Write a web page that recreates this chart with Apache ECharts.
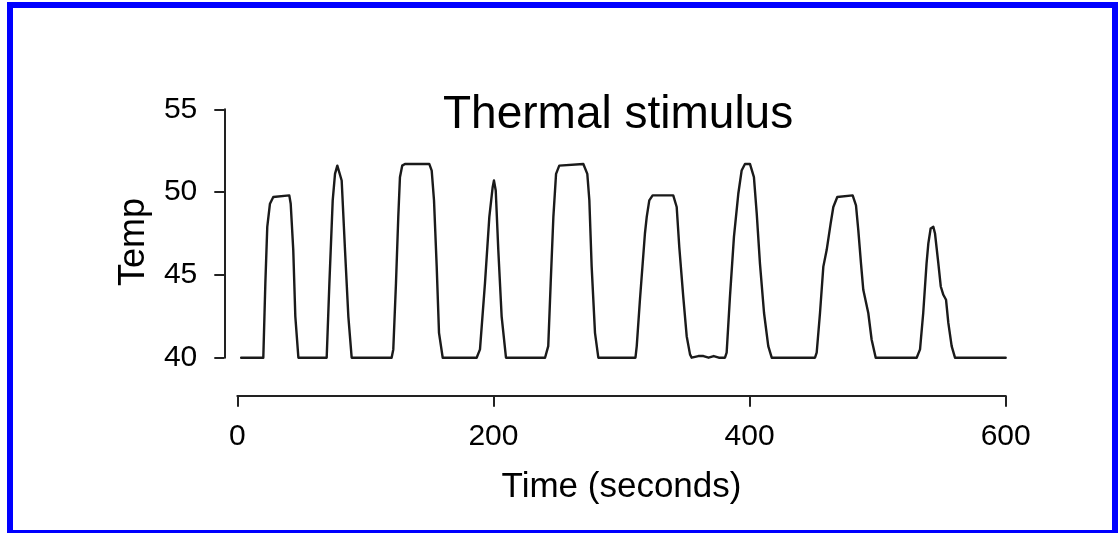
<!DOCTYPE html>
<html>
<head>
<meta charset="utf-8">
<script src="https://cdn.jsdelivr.net/npm/echarts@6/dist/echarts.min.js"></script>
<style>
  html, body { margin: 0; padding: 0; background: #ffffff; }
  #frame { position: absolute; left: 7px; top: 2px; width: 1099px; height: 522px; border: 6px solid #0000ff; }
  #chart { position: absolute; left: 0; top: 0; width: 1118px; height: 533px; }
</style>
</head>
<body>
<div id="frame"></div>
<div id="chart"></div>
<script>
// Time (seconds)
const times = [
  3, 20.3, 21.9, 23.4, 25.5, 28.1, 29.4, 40.6, 41.7, 43.7, 45.3, 47.7,
  69.8, 71.9, 74.5, 76.3, 78.1, 79.6, 81.5, 84.1, 86.7, 89.3,
  120.5, 121.8, 123.9, 125.7, 127, 128.8, 130.9, 149.9, 151.8, 153.6, 155.7, 157.5, 160.4,
  186.9, 187.5, 188.3, 189.5, 193.4, 196.8, 199.4, 200.4, 201.8, 203.8, 206.4, 209.8,
  240.3, 242.8, 244.7, 246.8, 248.9, 251.4, 252.5, 270.2, 273.3, 274.9, 276.7, 279.3, 281.9,
  304, 304.8, 306, 310.9, 311.9, 314.4, 318.3, 319.7, 321.7, 324.3, 340.4, 343.1, 345.1, 348.2, 350.9, 353.5, 354.8,
  360, 364, 368, 372, 376, 380.8, 382.1, 384.7, 387.8, 391.2, 393.8, 396.4, 400.3, 403.4, 405.6, 408.1, 411.3, 414.6, 417.3,
  428, 429, 430, 451.1, 452.4, 455, 457.6, 460.2, 463.3, 465.4, 468.5, 470, 480.5, 483.1, 484.9, 487, 488.8, 492.7, 495.3, 498.5,
  505, 506, 507, 530.5, 533.1, 535.6, 538.2, 539.6, 541.4, 543.5, 544.8, 547.4, 549.3, 551.3, 553.4, 555.2, 557.8, 560.4, 600
];
// Temperature
const temps = [
  40, 40, 44.5, 47.9, 49.3, 49.7, 49.8, 49.8, 49.3, 46.5, 42.5, 40,
  40, 44.5, 49.5, 51.1, 51.6, 51.6, 50.7, 46.5, 42.5, 40,
  40, 40.5, 44.5, 48.5, 50.9, 51.6, 51.7, 51.7, 51.3, 49.5, 45.5, 41.5, 40,
  40, 40.1, 40, 40.5, 44.5, 48.5, 50.3, 50.7, 50.1, 46.5, 42.5, 40,
  40, 40.7, 44.5, 48.5, 51.1, 51.6, 51.7, 51.7, 51.1, 49.5, 45.5, 41.5, 40,
  40, 40.1, 40, 40, 40.7, 43.5, 47.5, 48.5, 49.5, 49.8, 49.8, 49.1, 46.7, 43.7, 41.3, 40.2, 40,
  40.1, 40.1, 40, 40.1, 40, 40, 40.3, 43.7, 47.3, 49.9, 51.3, 51.7, 51.7, 50.9, 48.7, 45.7, 42.7, 40.7, 40,
  40, 40.1, 40, 40, 40.3, 42.7, 45.5, 46.5, 48.1, 49.1, 49.7, 49.8, 49.8, 49.2, 47.7, 45.7, 44.1, 42.7, 41.1, 40,
  40, 40.1, 40, 40, 40.5, 42.7, 45.7, 46.9, 47.8, 47.9, 47.5, 45.7, 44.3, 43.8, 43.5, 42.1, 40.7, 40, 40
];
const xTicks = [0, 200, 400, 600];
const yTicks = [40, 45, 50, 55];
const titleText = 'Thermal stimulus';
const xName = 'Time (seconds)';
const yName = 'Temp';

const points = times.map((t, i) => [t, temps[i]]);
const font = '"Liberation Sans", Arial, Helvetica, sans-serif';
const chart = echarts.init(document.getElementById('chart'), null, { renderer: 'canvas' });
chart.setOption({
  backgroundColor: 'transparent',
  animation: false,
  title: {
    text: titleText,
    left: 443,
    top: 92,
    padding: 0,
    textStyle: { fontFamily: font, fontSize: 46, fontWeight: 'normal', color: '#000', lineHeight: 46 }
  },
  grid: { left: 237.3, right: 112.3, top: 109.3, bottom: 175.3, containLabel: false },
  xAxis: {
    type: 'value',
    min: xTicks[0], max: xTicks[xTicks.length - 1], interval: 200,
    offset: 38,
    name: xName, nameLocation: 'middle', nameGap: 74,
    nameTextStyle: { fontFamily: font, fontSize: 35, color: '#000' },
    axisLine: { show: true, onZero: false, lineStyle: { color: '#222', width: 2 } },
    axisTick: { show: true, length: 11, lineStyle: { color: '#222', width: 2 } },
    axisLabel: { margin: 26, fontFamily: font, fontSize: 30, color: '#000' },
    splitLine: { show: false }
  },
  yAxis: {
    type: 'value',
    min: yTicks[0], max: yTicks[yTicks.length - 1], interval: 5,
    offset: 13,
    name: yName, nameLocation: 'middle', nameGap: 72,
    nameTextStyle: { fontFamily: font, fontSize: 36, color: '#000', padding: [0, 17, 0, 0] },
    axisLine: { show: true, onZero: false, lineStyle: { color: '#222', width: 2 } },
    axisTick: { show: true, length: 10, lineStyle: { color: '#222', width: 2 } },
    axisLabel: { margin: 27, fontFamily: font, fontSize: 30, color: '#000' },
    splitLine: { show: false }
  },
  series: [{
    type: 'line',
    data: points,
    showSymbol: false,
    symbol: 'none',
    lineStyle: { color: '#1a1a1a', width: 2.4, join: 'round', cap: 'round' },
    clip: false
  }]
});
</script>
</body>
</html>
